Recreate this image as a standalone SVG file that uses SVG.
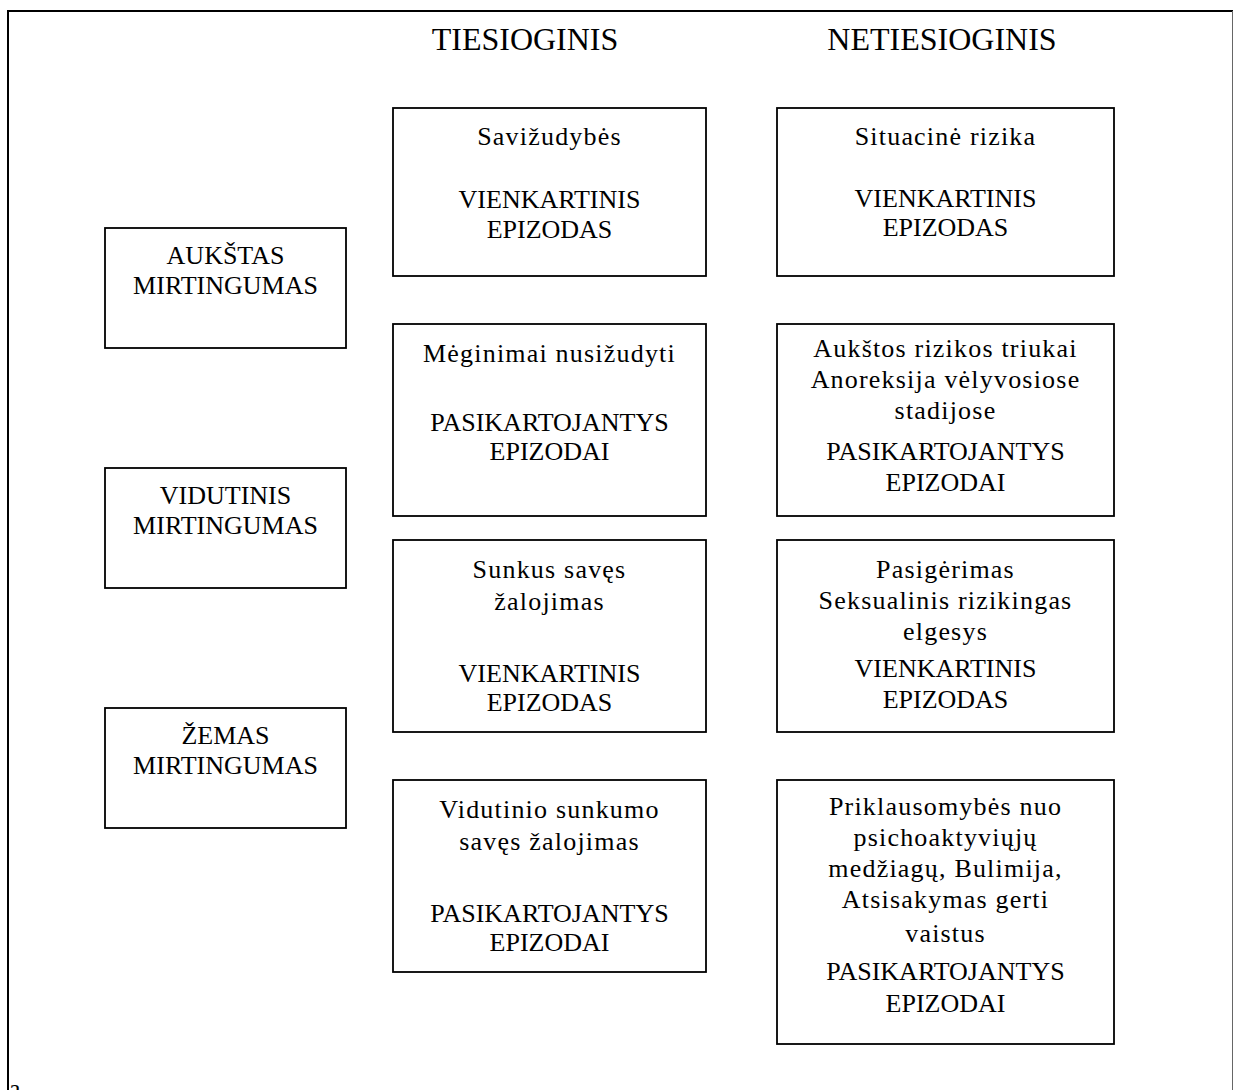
<svg xmlns="http://www.w3.org/2000/svg" width="1234" height="1090" viewBox="0 0 1234 1090">
<style>
.box{fill:#fff;stroke:#000;stroke-width:1.8}
text{font-family:"Liberation Serif","Times New Roman",serif;font-size:26px;fill:#000;text-anchor:middle}
.lc{letter-spacing:1.2px}
.hd{font-size:32px}
</style>
<rect x="0" y="0" width="1234" height="1090" fill="#fff"/>
<g id="frame">
<line x1="8" y1="11" x2="1233" y2="11" stroke="#000" stroke-width="2"/>
<line x1="8" y1="10" x2="8" y2="1090" stroke="#000" stroke-width="2"/>
<line x1="1232.5" y1="11" x2="1232.5" y2="1090" stroke="#666" stroke-width="1"/>
<text x="9" y="1097" style="text-anchor:start">a</text>
</g>
<g id="connectors"></g>
<g id="head-tiesioginis"><text class="hd" x="525" y="50">TIESIOGINIS</text></g>
<g id="head-netiesioginis"><text class="hd" x="942" y="50">NETIESIOGINIS</text></g>

<g id="aukstas">
<rect class="box" x="105" y="228" width="241" height="120"/>
<text x="225.5" y="264">AUKŠTAS</text>
<text x="225.5" y="294">MIRTINGUMAS</text>
</g>
<g id="vidutinis">
<rect class="box" x="105" y="468" width="241" height="120"/>
<text x="225.5" y="504">VIDUTINIS</text>
<text x="225.5" y="534">MIRTINGUMAS</text>
</g>
<g id="zemas">
<rect class="box" x="105" y="708" width="241" height="120"/>
<text x="225.5" y="744">ŽEMAS</text>
<text x="225.5" y="774">MIRTINGUMAS</text>
</g>

<g id="savizudybes">
<rect class="box" x="393" y="108" width="313" height="168"/>
<text class="lc" x="549.5" y="145">Savižudybės</text>
<text x="549.5" y="208">VIENKARTINIS</text>
<text x="549.5" y="238">EPIZODAS</text>
</g>
<g id="meginimai">
<rect class="box" x="393" y="324" width="313" height="192"/>
<text class="lc" x="549.5" y="362">Mėginimai nusižudyti</text>
<text x="549.5" y="431">PASIKARTOJANTYS</text>
<text x="549.5" y="460">EPIZODAI</text>
</g>
<g id="sunkus">
<rect class="box" x="393" y="540" width="313" height="192"/>
<text class="lc" x="549.5" y="578">Sunkus savęs</text>
<text class="lc" x="549.5" y="610">žalojimas</text>
<text x="549.5" y="682">VIENKARTINIS</text>
<text x="549.5" y="711">EPIZODAS</text>
</g>
<g id="vidutinio">
<rect class="box" x="393" y="780" width="313" height="192"/>
<text class="lc" x="549.5" y="818">Vidutinio sunkumo</text>
<text class="lc" x="549.5" y="850">savęs žalojimas</text>
<text x="549.5" y="922">PASIKARTOJANTYS</text>
<text x="549.5" y="951">EPIZODAI</text>
</g>

<g id="situacine">
<rect class="box" x="777" y="108" width="337" height="168"/>
<text class="lc" x="945.5" y="145">Situacinė rizika</text>
<text x="945.5" y="207">VIENKARTINIS</text>
<text x="945.5" y="236">EPIZODAS</text>
</g>
<g id="aukstos">
<rect class="box" x="777" y="324" width="337" height="192"/>
<text class="lc" x="945.5" y="357">Aukštos rizikos triukai</text>
<text class="lc" x="945.5" y="388">Anoreksija vėlyvosiose</text>
<text class="lc" x="945.5" y="419">stadijose</text>
<text x="945.5" y="460">PASIKARTOJANTYS</text>
<text x="945.5" y="491">EPIZODAI</text>
</g>
<g id="pasigerimas">
<rect class="box" x="777" y="540" width="337" height="192"/>
<text class="lc" x="945.5" y="578">Pasigėrimas</text>
<text class="lc" x="945.5" y="609">Seksualinis rizikingas</text>
<text class="lc" x="945.5" y="640">elgesys</text>
<text x="945.5" y="677">VIENKARTINIS</text>
<text x="945.5" y="708">EPIZODAS</text>
</g>
<g id="priklausomybes">
<rect class="box" x="777" y="780" width="337" height="264"/>
<text class="lc" x="945.5" y="815">Priklausomybės nuo</text>
<text class="lc" x="945.5" y="846">psichoaktyviųjų</text>
<text class="lc" x="945.5" y="877">medžiagų, Bulimija,</text>
<text class="lc" x="945.5" y="908">Atsisakymas gerti</text>
<text class="lc" x="945.5" y="942">vaistus</text>
<text x="945.5" y="980">PASIKARTOJANTYS</text>
<text x="945.5" y="1012">EPIZODAI</text>
</g>
</svg>
